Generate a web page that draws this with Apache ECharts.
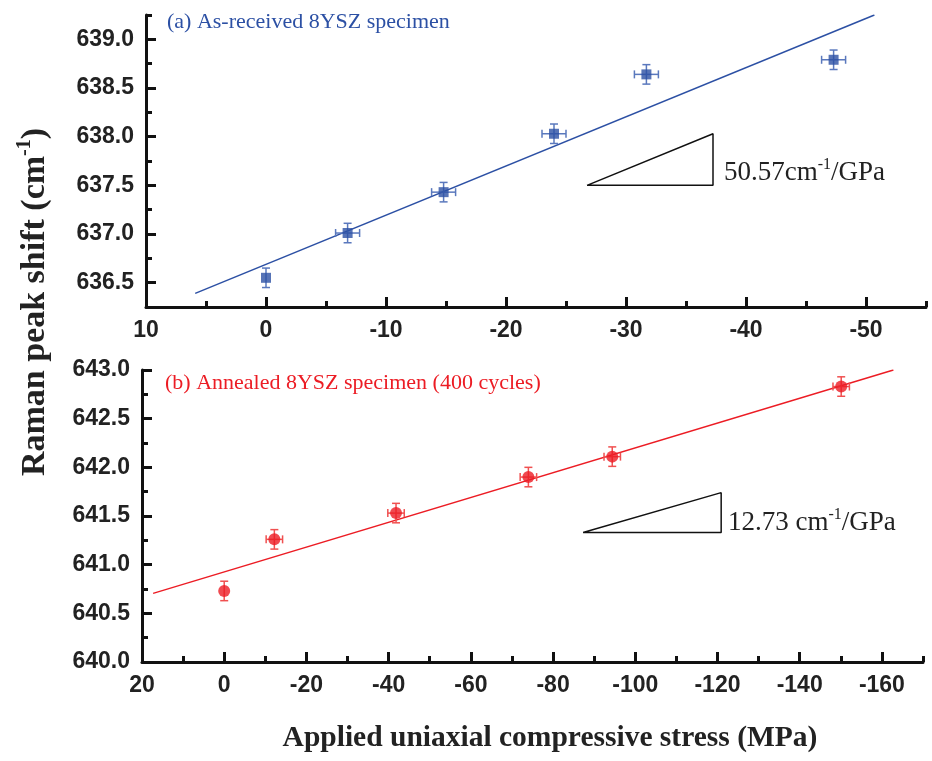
<!DOCTYPE html>
<html>

<head>
  <meta charset="utf-8">
  <title>Raman peak shift vs stress</title>
  <script src="https://cdn.jsdelivr.net/npm/echarts@6/dist/echarts.min.js"></script>
</head>

<body style="margin:0">
  <div id="main" style="width: 932px; height: 761px;"></div>
  <script type="text/javascript">
    // (a) as-received specimen
    var stressA = [0, -6.8, -14.8, -24.0, -31.7, -47.3];
    var shiftA = [636.55, 637.01, 637.43, 638.03, 638.64, 638.79];
    var xErrA = [0, 1.0, 1.0, 1.0, 1.0, 1.0];
    var yErrA = [0.1, 0.1, 0.1, 0.1, 0.1, 0.1];
    var fitA = [[5.9, 636.39], [-50.7, 639.25]];
    var triA = [[-26.75, 637.5], [-37.25, 637.5], [-37.25, 638.03], [-26.75, 637.5]];

    // (b) annealed specimen
    var stressB = [0, -12.2, -41.8, -74.0, -94.4, -150.1];
    var shiftB = [640.73, 641.26, 641.53, 641.90, 642.11, 642.83];
    var xErrB = [0, 2.0, 2.0, 2.0, 2.0, 2.0];
    var yErrB = [0.1, 0.1, 0.1, 0.1, 0.1, 0.1];
    var fitB = [[17.3, 640.705], [-162.8, 643.0]];
    var triB = [[-87.3, 641.33], [-120.9, 641.33], [-120.9, 641.74], [-87.3, 641.33]];

    // tick values
    var xMajorA = [10, 0, -10, -20, -30, -40, -50];
    var xMinorA = [5, -5, -15, -25, -35, -45, -55];
    var yMajorA = [636.5, 637.0, 637.5, 638.0, 638.5, 639.0];
    var yMinorA = [636.25, 636.75, 637.25, 637.75, 638.25, 638.75, 639.25];
    var xMajorB = [20, 0, -20, -40, -60, -80, -100, -120, -140, -160];
    var xMinorB = [10, -10, -30, -50, -70, -90, -110, -130, -150, -170];
    var yMajorB = [640.0, 640.5, 641.0, 641.5, 642.0, 642.5, 643.0];
    var yMinorB = [640.25, 640.75, 641.25, 641.75, 642.25, 642.75];

    var blue = '#2c50a4';
    var red = '#ec1c24';
    var sans = 'Liberation Sans';
    var serif = 'Liberation Serif';

    var myChart = echarts.init(document.getElementById('main'));

    function majorAxis(grid, min, max, inverse, ticks, isX) {
      return {
        type: 'value', gridIndex: grid, min: min, max: max, inverse: inverse,
        position: isX ? 'bottom' : 'left',
        axisLine: { show: true, onZero: false, lineStyle: { color: '#111', width: 3 } },
        axisTick: { show: true, inside: true, length: 10, customValues: ticks, lineStyle: { color: '#111', width: 3 } },
        axisLabel: {
          customValues: ticks, margin: isX ? 12 : 12, color: '#222',
          fontFamily: sans, fontWeight: 'bold', fontSize: 23,
          formatter: isX ? function (v) { return String(v); } : function (v) { return v.toFixed(1); }
        },
        splitLine: { show: false }
      };
    }

    function minorAxis(grid, min, max, inverse, ticks, isX) {
      return {
        type: 'value', gridIndex: grid, min: min, max: max, inverse: inverse,
        position: isX ? 'bottom' : 'left',
        axisLine: { show: false, onZero: false },
        axisTick: { show: true, inside: true, length: 6, customValues: ticks, lineStyle: { color: '#111', width: 3 } },
        axisLabel: { show: false },
        splitLine: { show: false }
      };
    }

    function errData(xs, ys, ex, ey) {
      return xs.map(function (x, i) { return [x, ys[i], ex[i], ey[i]]; });
    }

    function errRender(color) {
      return function (params, api) {
        var x = api.value(0), y = api.value(1), ex = api.value(2), ey = api.value(3);
        var top = api.coord([x, y + ey]), bot = api.coord([x, y - ey]);
        var cap = 4;
        var st = { stroke: color, lineWidth: 1.5 };
        var kids = [
          { type: 'line', shape: { x1: top[0], y1: top[1], x2: bot[0], y2: bot[1] }, style: st },
          { type: 'line', shape: { x1: top[0] - cap, y1: top[1], x2: top[0] + cap, y2: top[1] }, style: st },
          { type: 'line', shape: { x1: bot[0] - cap, y1: bot[1], x2: bot[0] + cap, y2: bot[1] }, style: st }
        ];
        if (ex > 0) {
          var l = api.coord([x - ex, y]), r = api.coord([x + ex, y]);
          kids.push({ type: 'line', shape: { x1: l[0], y1: l[1], x2: r[0], y2: r[1] }, style: st });
          kids.push({ type: 'line', shape: { x1: l[0], y1: l[1] - cap, x2: l[0], y2: l[1] + cap }, style: st });
          kids.push({ type: 'line', shape: { x1: r[0], y1: r[1] - cap, x2: r[0], y2: r[1] + cap }, style: st });
        }
        return { type: 'group', children: kids };
      };
    }

    function pts(xs, ys) {
      return xs.map(function (x, i) { return [x, ys[i]]; });
    }

    var richNote = {
      a: { fontFamily: serif, fontSize: 27, lineHeight: 32, fill: '#222' },
      s: { fontFamily: serif, fontSize: 16, lineHeight: 18, verticalAlign: 'top', fill: '#222' }
    };

    myChart.setOption({
      animation: false,
      backgroundColor: '#fff',
      grid: [
        { left: 146, top: 15, width: 780, height: 292 },
        { left: 142, top: 370, width: 781, height: 292 }
      ],
      xAxis: [
        majorAxis(0, -55, 10, true, xMajorA, true),
        minorAxis(0, -55, 10, true, xMinorA, true),
        majorAxis(1, -170, 20, true, xMajorB, true),
        minorAxis(1, -170, 20, true, xMinorB, true)
      ],
      yAxis: [
        majorAxis(0, 636.25, 639.25, false, yMajorA, false),
        minorAxis(0, 636.25, 639.25, false, yMinorA, false),
        majorAxis(1, 640, 643, false, yMajorB, false),
        minorAxis(1, 640, 643, false, yMinorB, false)
      ],
      graphic: [
        { type: 'text', left: 167, top: 11, style: { text: '(a) As-received 8YSZ specimen', fill: blue, font: '22px "Liberation Serif"' } },
        { type: 'text', left: 165, top: 372, style: { text: '(b) Annealed 8YSZ specimen (400 cycles)', fill: red, font: '22px "Liberation Serif"' } },
        {
          type: 'text', left: 724, top: 157,
          style: { text: '{a|50.57cm}{s|-1}{a|/GPa}', fill: '#222', rich: richNote }
        },
        {
          type: 'text', left: 728, top: 507,
          style: { text: '{a|12.73 cm}{s|-1}{a|/GPa}', fill: '#222', rich: richNote }
        },
        {
          type: 'text', x: 550, y: 738,
          style: {
            text: 'Applied uniaxial compressive stress (MPa)', fill: '#222',
            font: 'bold 29.5px "Liberation Serif"', textAlign: 'center', textVerticalAlign: 'middle'
          }
        },
        {
          type: 'text', x: 35, y: 302, rotation: Math.PI / 2,
          style: {
            text: '{a|Raman peak shift (cm}{s|-1}{a|)}', fill: '#222', align: 'center', verticalAlign: 'middle',
            rich: {
              a: { fontFamily: serif, fontWeight: 'bold', fontSize: 34, lineHeight: 40, fill: '#222' },
              s: { fontFamily: serif, fontWeight: 'bold', fontSize: 20, lineHeight: 22, verticalAlign: 'top', fill: '#222' }
            }
          }
        }
      ],
      series: [
        {
          type: 'custom', xAxisIndex: 0, yAxisIndex: 0, z: 3,
          renderItem: errRender('#5a78bd'), data: errData(stressA, shiftA, xErrA, yErrA)
        },
        {
          type: 'line', xAxisIndex: 0, yAxisIndex: 0, data: fitA, showSymbol: false, symbol: 'none',
          lineStyle: { color: blue, width: 1.5 }, z: 2
        },
        {
          type: 'scatter', xAxisIndex: 0, yAxisIndex: 0, data: pts(stressA, shiftA),
          symbol: 'rect', symbolSize: 10, itemStyle: { color: blue }, z: 5
        },
        {
          type: 'line', xAxisIndex: 0, yAxisIndex: 0, data: triA, symbol: 'none',
          lineStyle: { color: '#111', width: 1.5 }
        },
        {
          type: 'custom', xAxisIndex: 2, yAxisIndex: 2, z: 3,
          renderItem: errRender('#f05050'), data: errData(stressB, shiftB, xErrB, yErrB)
        },
        {
          type: 'line', xAxisIndex: 2, yAxisIndex: 2, data: fitB, showSymbol: false, symbol: 'none',
          lineStyle: { color: red, width: 1.5 }, z: 2
        },
        {
          type: 'scatter', xAxisIndex: 2, yAxisIndex: 2, data: pts(stressB, shiftB),
          symbol: 'circle', symbolSize: 12, itemStyle: { color: red }, z: 5
        },
        {
          type: 'line', xAxisIndex: 2, yAxisIndex: 2, data: triB, symbol: 'none',
          lineStyle: { color: '#111', width: 1.5 }
        }
      ]
    });
  </script>
</body>

</html>
